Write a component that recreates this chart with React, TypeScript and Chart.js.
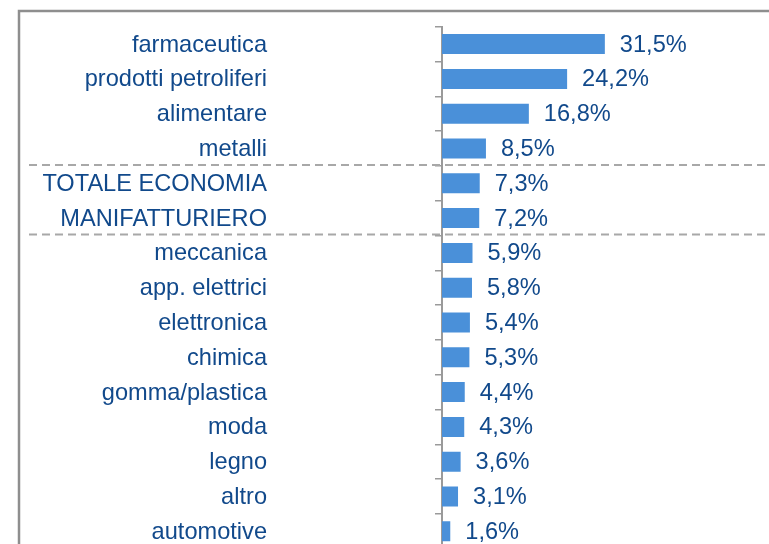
import React, { useEffect, useRef } from "react";
import { Chart, registerables } from "chart.js";

Chart.register(...registerables);

const categories = [
  "farmaceutica",
  "prodotti petroliferi",
  "alimentare",
  "metalli",
  "TOTALE ECONOMIA",
  "MANIFATTURIERO",
  "meccanica",
  "app. elettrici",
  "elettronica",
  "chimica",
  "gomma/plastica",
  "moda",
  "legno",
  "altro",
  "automotive",
];
const values = [31.5, 24.2, 16.8, 8.5, 7.3, 7.2, 5.9, 5.8, 5.4, 5.3, 4.4, 4.3, 3.6, 3.1, 1.6];
// dashed separators drawn after these category indexes
const separatorsAfter = [3, 5];

const TEXT_COLOR = "#11498b";
const BAR_COLOR = "#4a90d9";
const FONT_FAMILY = "'Liberation Sans', Arial, sans-serif";
const FONT_SIZE = 23.6;

const fmt = (v: number) => v.toFixed(1).replace(".", ",") + "%";

export default function App() {
  const ref = useRef<HTMLCanvasElement | null>(null);

  useEffect(() => {
    const canvas = ref.current;
    if (!canvas) return;

    const framePlugin = {
      id: "frame",
      beforeDraw(chart: any) {
        const ctx = chart.ctx;
        ctx.save();
        ctx.strokeStyle = "#8e8e8e";
        ctx.lineWidth = 2.5;
        ctx.strokeRect(19, 11, chart.width + 20, chart.height + 20);
        ctx.restore();
      },
    };

    const overlayPlugin = {
      id: "overlay",
      afterDraw(chart: any) {
        const ctx = chart.ctx;
        const meta = chart.getDatasetMeta(0);
        const yScale = chart.scales.y;
        ctx.save();
        // dashed separators
        ctx.strokeStyle = "#a8a8a8";
        ctx.lineWidth = 2;
        ctx.setLineDash([8, 5]);
        separatorsAfter.forEach((i) => {
          const y =
            (yScale.getPixelForValue(i) + yScale.getPixelForValue(i + 1)) / 2 - 1;
          ctx.beginPath();
          ctx.moveTo(29, y);
          ctx.lineTo(chart.width, y);
          ctx.stroke();
        });
        ctx.setLineDash([]);
        ctx.fillStyle = TEXT_COLOR;
        ctx.font = `${FONT_SIZE}px ${FONT_FAMILY}`;
        ctx.textBaseline = "middle";
        // category labels (right-aligned, left of the axis)
        ctx.textAlign = "right";
        categories.forEach((c, i) => {
          ctx.fillText(c, 267, yScale.getPixelForValue(i) + 1);
        });
        // value labels
        ctx.textAlign = "left";
        meta.data.forEach((bar: any, i: number) => {
          ctx.fillText(fmt(values[i]), bar.x + 15, bar.y + 1);
        });
        ctx.restore();
      },
    };

    const chart = new Chart(canvas, {
      type: "bar",
      data: {
        labels: categories,
        datasets: [
          {
            data: values,
            backgroundColor: BAR_COLOR,
            borderWidth: 0,
            barPercentage: 0.575,
            categoryPercentage: 1,
          },
        ],
      },
      options: {
        indexAxis: "y",
        animation: false,
        responsive: false,
        maintainAspectRatio: false,
        devicePixelRatio: 1,
        layout: {
          padding: { top: 26.7, bottom: 600 - 548.7, left: 435, right: 769 - 752.2 },
        },
        plugins: {
          legend: { display: false },
          tooltip: { enabled: false },
          title: { display: false },
        },
        scales: {
          x: {
            display: false,
            min: 0,
            max: 60,
          },
          y: {
            z: 1,
            offset: true,
            border: { display: true, color: "#9a9a9a", width: 2 },
            grid: {
              offset: true,
              drawOnChartArea: false,
              drawTicks: true,
              tickLength: 7,
              color: "#9a9a9a",
              lineWidth: 1.5,
            },
            ticks: {
              display: false,
              autoSkip: false,
            },
          },
        },
      },
      plugins: [framePlugin, overlayPlugin],
    });

    return () => chart.destroy();
  }, []);

  return (
    <div style={{ position: "fixed", left: 0, top: 0, width: 769, height: 600, background: "#fff" }}>
      <canvas ref={ref} width={769} height={600} style={{ display: "block" }} />
    </div>
  );
}
